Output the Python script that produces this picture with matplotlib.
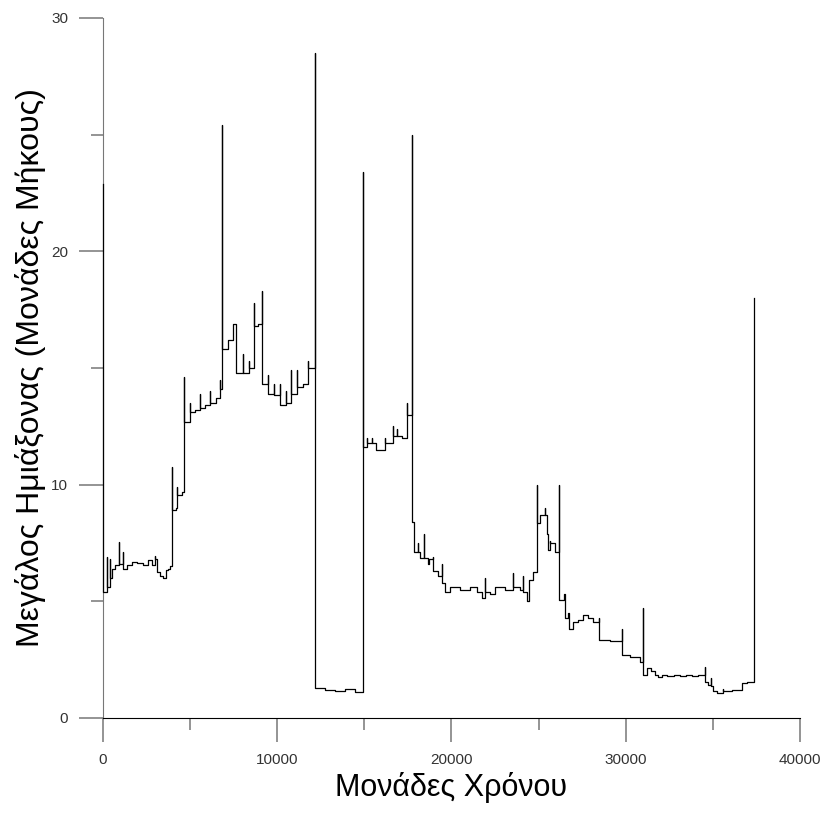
import matplotlib
matplotlib.use("Agg")
import matplotlib.pyplot as plt
from matplotlib.ticker import MultipleLocator

# time (in time units) at which the semi-major axis changes
change_times = [0, 224, 413, 511, 700, 947, 1142, 1371, 1658, 1945, 2323, 2610, 2805,
                2995, 3127, 3282, 3471, 3626, 3758, 3855, 3987, 4182, 4274, 4527, 4676,
                5003, 5290, 5576, 5863, 6150, 6494, 6724, 6856, 7183, 7450, 7670, 8043,
                8387, 8691, 8904, 9151, 9495, 9822, 10166, 10510, 10780, 11124, 11468,
                11790, 12174, 12748, 13322, 13895, 14469, 14910, 15140, 15427, 15674,
                16190, 16632, 16861, 17148, 17435, 17722, 17853, 18083, 18198, 18427,
                18657, 18714, 18944, 19231, 19443, 19632, 19919, 20493, 21066, 21460,
                21755, 21927, 22200, 22500, 23074, 23533, 23935, 24107, 24319, 24451,
                24681, 24893, 25082, 25369, 25467, 25541, 25650, 25943, 26190, 26459,
                26517, 26689, 26763, 26976, 27262, 27566, 27836, 28122, 28484, 29098,
                29769, 30245, 30819, 30974, 31203, 31450, 31679, 31869, 32064, 32400,
                32750, 33100, 33450, 33800, 34150, 34549, 34738, 34875, 35008, 35220,
                35581, 36080, 36654, 36941, 37360]

# values visited at each change time (spikes go up and come back down)
levels = [[22.9, 5.4], [6.9, 5.6], [6.8, 6.0], [6.4], [6.55], [7.55, 6.6], [7.1, 6.4],
          [6.55], [6.7], [6.65], [6.55], [6.75], [6.55], [6.95, 6.8], [6.25], [6.1],
          [6.0], [6.35], [6.4], [6.5], [10.75, 8.9], [9.0], [9.9, 9.55], [9.7],
          [14.6, 12.7], [13.5, 13.1], [13.2], [13.9, 13.3], [13.4], [14.0, 13.5],
          [13.7], [14.5, 14.1], [25.4, 15.8], [16.2], [16.9], [14.8], [15.6, 14.8],
          [15.3, 15.0], [17.8, 16.8], [16.9], [18.3, 14.3], [14.7, 13.9],
          [14.3, 13.85], [14.3, 13.4], [14.0, 13.5], [14.9, 13.9], [14.9, 14.2],
          [14.3], [15.3, 15.0], [28.5, 1.3], [1.2], [1.15], [1.25], [1.1],
          [23.4, 11.6], [12.0, 11.8], [12.0, 11.8], [11.5], [12.0, 11.8],
          [12.5, 12.1], [12.4, 12.1], [12.0], [13.5, 13.0], [25.0, 8.4], [7.1],
          [7.5, 7.1], [6.85], [7.9, 6.85], [6.6], [6.8], [6.9, 6.3], [6.1],
          [6.6, 5.8], [5.4], [5.6], [5.5], [5.6], [5.4], [5.15], [6.0, 5.4], [5.3],
          [5.6], [5.5], [6.2, 5.6], [5.5], [6.1, 5.4], [5.0], [5.9], [6.25],
          [10.0, 8.35], [8.7], [9.0, 8.7], [7.9], [7.2], [7.6, 7.5], [7.1],
          [10.0, 5.05], [5.3], [4.3], [4.5], [3.8], [4.1], [4.2], [4.4], [4.3],
          [4.1], [4.3, 3.35], [3.3], [3.8, 2.7], [2.6], [2.4], [4.7, 1.85], [2.15],
          [2.0], [1.85], [1.75], [1.85], [1.8], [1.85], [1.8], [1.85], [1.8], [1.85],
          [2.2, 1.55], [1.4], [1.7, 1.35], [1.15], [1.08], [1.25, 1.15], [1.2],
          [1.5], [1.55], [18.0]]

x_label = "Μονάδες Χρόνου"
y_label = "Μεγάλος Ημιάξονας (Μονάδες Μήκους)"


def build_path(times, levels):
    xs, ys = [], []
    for t, lv in zip(times, levels):
        if xs:
            xs.append(t)
            ys.append(ys[-1])
        for v in lv:
            xs.append(t)
            ys.append(v)
    return xs, ys


plt.rcParams['font.family'] = ['Liberation Sans', 'DejaVu Sans']

fig = plt.figure(figsize=(8.27, 8.13), dpi=100)
ax = fig.add_axes([0.1243, 0.1169, 0.8430, 0.8610])

xs, ys = build_path(change_times, levels)
ax.plot(xs, ys, color='black', lw=0.9, clip_on=False, zorder=5)

ax.set_xlim(0, 40000)
ax.set_ylim(0, 30)
ax.spines['top'].set_visible(False)
ax.spines['right'].set_visible(False)
ax.spines['left'].set_color('#777777')
ax.spines['bottom'].set_color('black')

ax.xaxis.set_major_locator(MultipleLocator(10000))
ax.xaxis.set_minor_locator(MultipleLocator(5000))
ax.yaxis.set_major_locator(MultipleLocator(10))
ax.yaxis.set_minor_locator(MultipleLocator(5))
ax.tick_params(which='major', length=17, width=1.1, color='#777777', direction='out',
               pad=8, labelsize=11, labelcolor='#333333')
ax.tick_params(which='minor', length=8.6, width=1.1, color='#777777', direction='out')

ax.set_xlabel(x_label, fontsize=22, labelpad=4)
ax.set_ylabel(y_label, fontsize=23, labelpad=4)

fig.savefig("out.png", dpi=100)
